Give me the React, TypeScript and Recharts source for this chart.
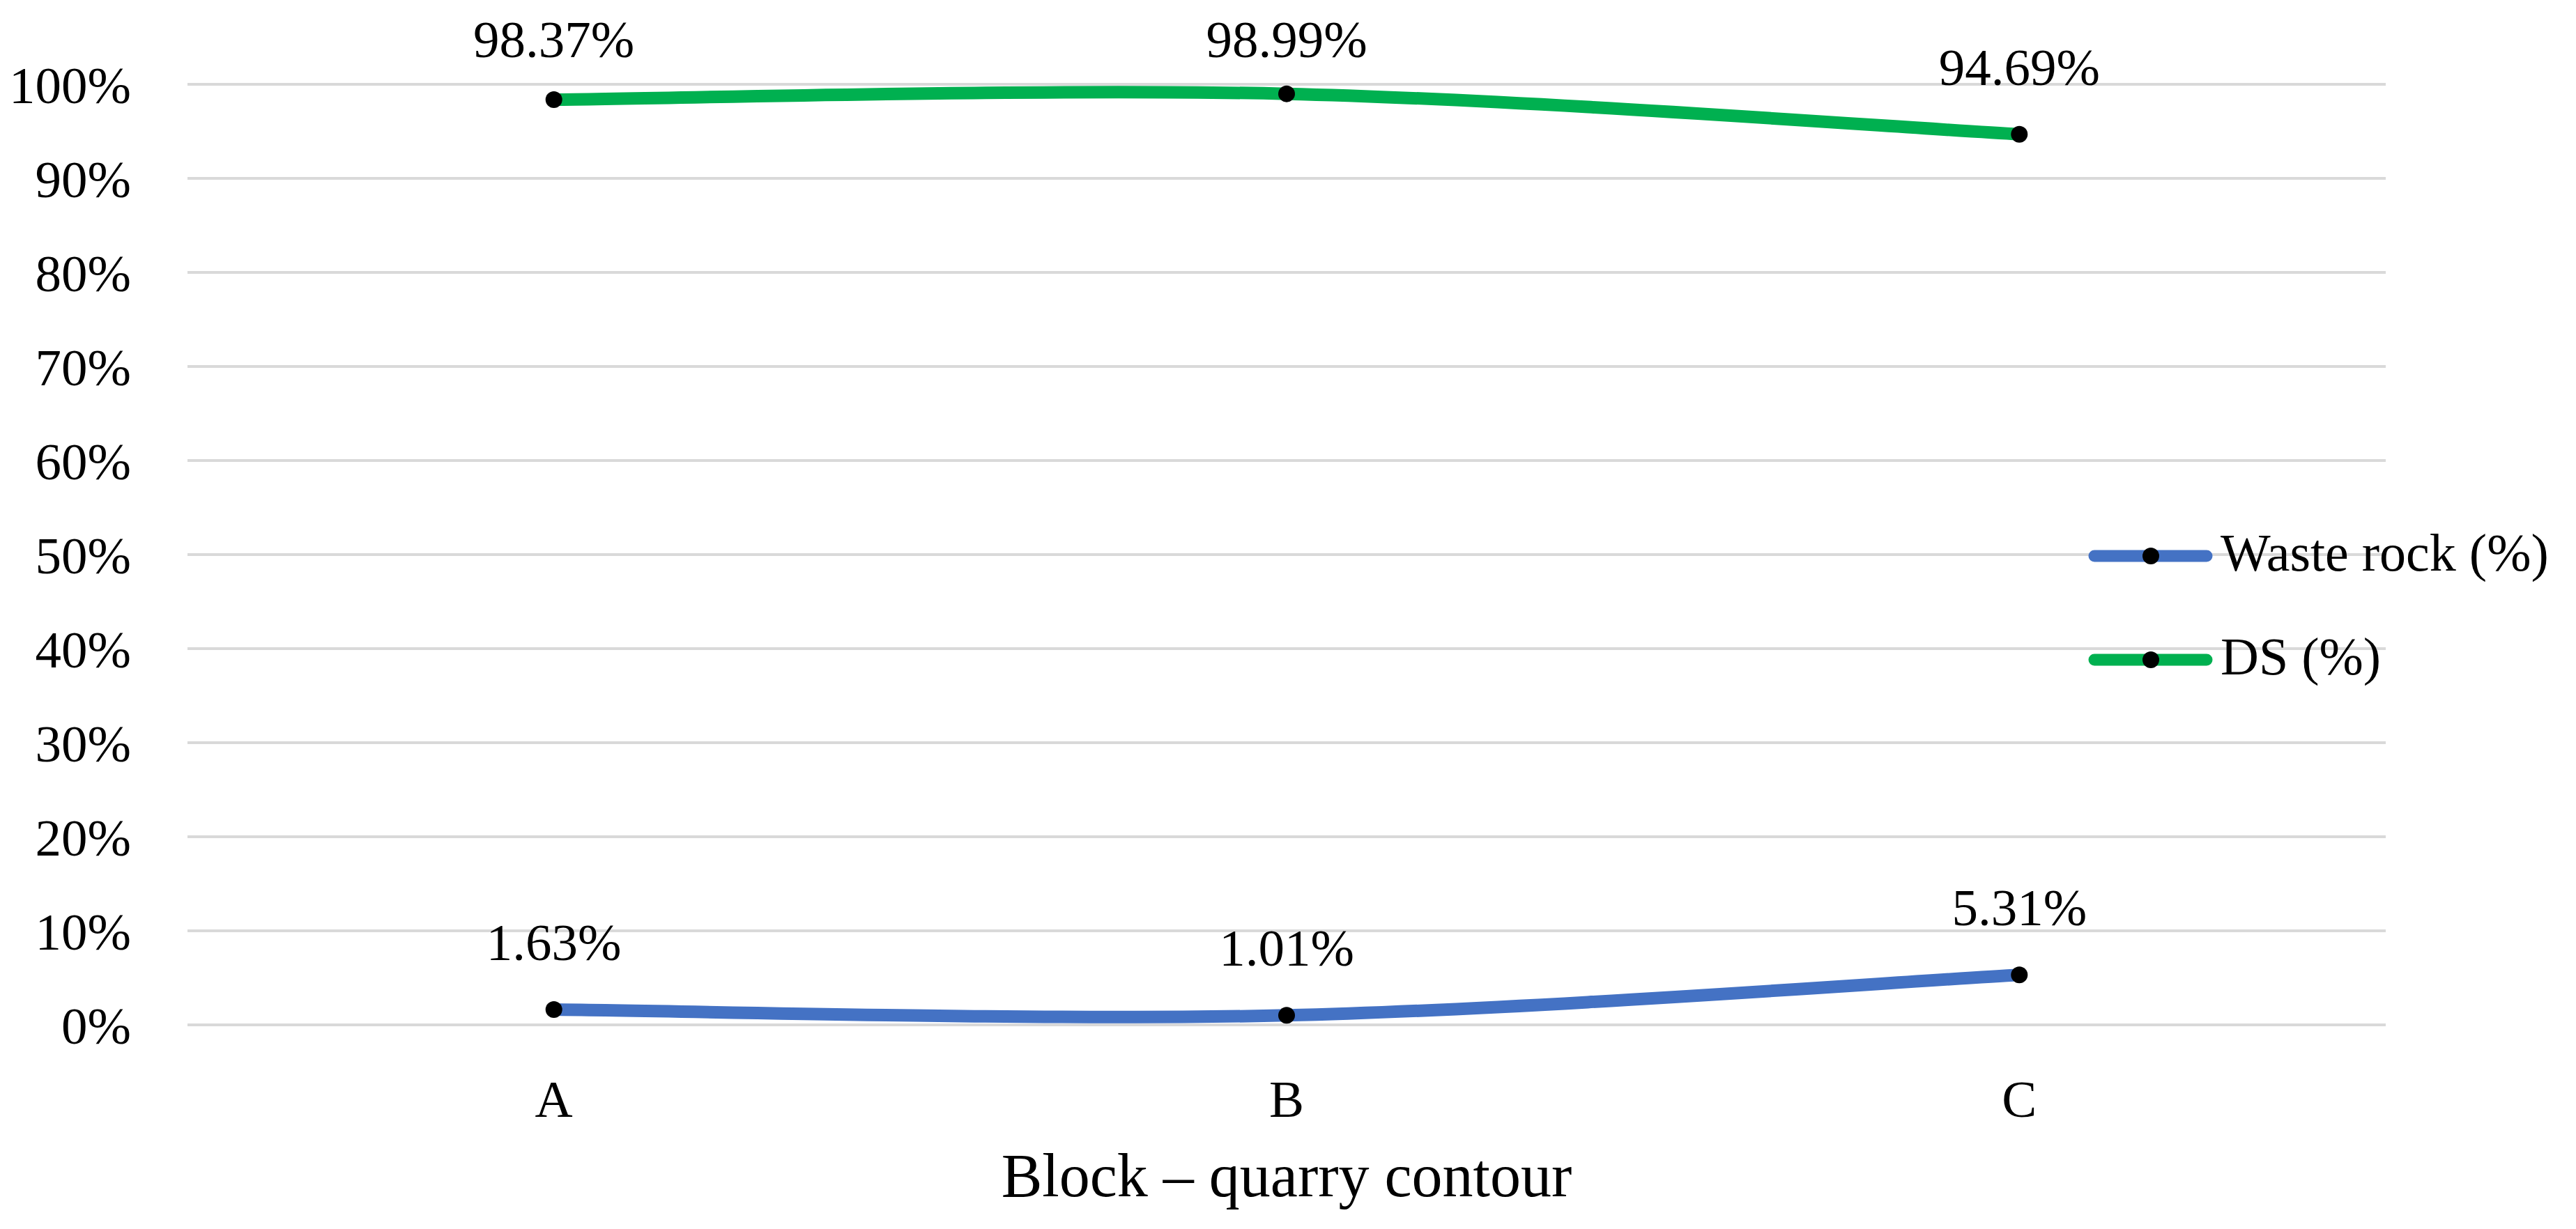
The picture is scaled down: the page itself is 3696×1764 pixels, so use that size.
import React from 'react';
import { LineChart, Line, XAxis, YAxis, CartesianGrid, Legend, LabelList, Label } from 'recharts';

const categories = ['A', 'B', 'C'];
const wasteRock = [1.63, 1.01, 5.31];
const ds = [98.37, 98.99, 94.69];
const yTicks = [0, 10, 20, 30, 40, 50, 60, 70, 80, 90, 100];
const seriesNames = ['Waste rock (%)', 'DS (%)'];
const seriesColors = ['#4472C4', '#00B050'];
const xTitle = 'Block \u2013 quarry contour';

const data = categories.map((c, i) => ({ cat: c, waste: wasteRock[i], ds: ds[i] }));

const FONT = '"Liberation Serif", "Times New Roman", serif';

// Excel-like smoothed line (Bezier with 1/6 tangent control points)
const excelSmooth: any = (context: any) => {
  let pts: number[][] = [];
  return {
    areaStart() {},
    areaEnd() {},
    lineStart() {
      pts = [];
    },
    point(x: number, y: number) {
      pts.push([+x, +y]);
    },
    lineEnd() {
      const n = pts.length;
      if (!n) return;
      context.moveTo(pts[0][0], pts[0][1]);
      for (let i = 0; i < n - 1; i++) {
        const p0 = pts[i - 1] || pts[i];
        const p1 = pts[i];
        const p2 = pts[i + 1];
        const p3 = pts[i + 2] || pts[i + 1];
        const c1x = p1[0] + (p2[0] - p0[0]) / 6;
        const c1y = p1[1] + (p2[1] - p0[1]) / 6;
        const c2x = p2[0] - (p3[0] - p1[0]) / 6;
        const c2y = p2[1] - (p3[1] - p1[1]) / 6;
        context.bezierCurveTo(c1x, c1y, c2x, c2y, p2[0], p2[1]);
      }
    },
  };
};

const DataLabel = (props: any) => {
  const { x, y, value } = props;
  if (x == null || y == null) return null;
  const ty = Math.max(y - 71, 82);
  return (
    <text x={x} y={ty} textAnchor="middle" fontSize={75} fontFamily={FONT} fill="#000">
      {Number(value).toFixed(2)}%
    </text>
  );
};

const CustomLegend = () => {
  const rows = [58, 207];
  return (
    <svg width={700} height={260} style={{ overflow: 'visible' }}>
      {seriesNames.map((name, i) => (
        <g key={name}>
          <line x1={15} x2={176} y1={rows[i]} y2={rows[i]} stroke={seriesColors[i]} strokeWidth={17} strokeLinecap="round" />
          <circle cx={96} cy={rows[i]} r={12} fill="#000" />
          <text x={196} y={rows[i] + 21} fontSize={76} fontFamily={FONT} fill="#000">
            {name}
          </text>
        </g>
      ))}
    </svg>
  );
};

export default function App() {
  return (
    <div style={{ position: 'absolute', left: 0, top: 0, background: '#fff' }}>
      <LineChart
        width={3696}
        height={1764}
        data={data}
        margin={{ top: 121, right: 273, bottom: 33, left: 0 }}
      >
        <CartesianGrid horizontal vertical={false} stroke="#D9D9D9" strokeWidth={4} />
        <XAxis
          dataKey="cat"
          axisLine={false}
          tickLine={false}
          tickSize={0}
          tickMargin={79}
          height={260}
          padding={{ left: 525.7, right: 525.7 }}
          tick={{ fontSize: 75, fontFamily: FONT, fill: '#000' }}
        >
          <Label
            value={xTitle}
            position="insideBottom"
            offset={14}
            style={{ fontSize: 88, fontFamily: FONT, fill: '#000' }}
          />
        </XAxis>
        <YAxis
          width={269}
          domain={[0, 100]}
          ticks={yTicks}
          interval={0}
          axisLine={false}
          tickLine={false}
          tickSize={0}
          tickMargin={81}
          tickFormatter={(v: number) => `${v}%`}
          tick={{ fontSize: 75, fontFamily: FONT, fill: '#000' }}
        />
        <Legend
          layout="horizontal"
          align="center"
          verticalAlign="middle"
          content={<CustomLegend />}
          wrapperStyle={{ position: 'absolute', left: 2990, top: 740, width: 700, height: 260 }}
        />
        <Line
          dataKey="waste"
          name={seriesNames[0]}
          type={excelSmooth}
          stroke={seriesColors[0]}
          strokeWidth={18}
          dot={{ r: 12, fill: '#000', stroke: 'none' }}
          activeDot={false}
          isAnimationActive={false}
        >
          <LabelList dataKey="waste" content={<DataLabel />} />
        </Line>
        <Line
          dataKey="ds"
          name={seriesNames[1]}
          type={excelSmooth}
          stroke={seriesColors[1]}
          strokeWidth={18}
          dot={{ r: 12, fill: '#000', stroke: 'none' }}
          activeDot={false}
          isAnimationActive={false}
        >
          <LabelList dataKey="ds" content={<DataLabel />} />
        </Line>
      </LineChart>
    </div>
  );
}
